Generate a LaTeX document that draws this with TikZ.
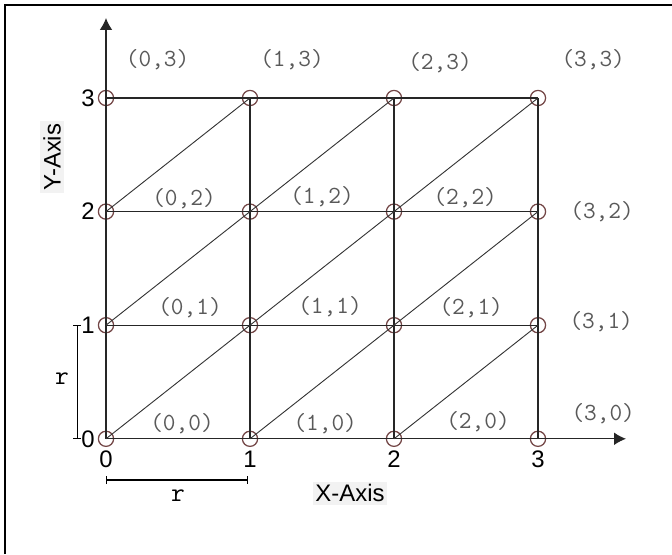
\documentclass[tikz,border=0pt]{standalone}
\usepackage{fontspec}
\usepackage{tikz}
\usetikzlibrary{arrows.meta}
\newfontfamily\sansfnt{Liberation Sans}
\definecolor{ptred}{RGB}{115,70,70}
\begin{document}
\begin{tikzpicture}[x=1cm,y=1cm,
  pt/.style={circle,draw=ptred,line width=0.9pt,minimum size=0.38cm,inner sep=0pt},
  lbl/.style={font=\ttfamily\fontsize{17.5}{19}\selectfont,text=black!65,inner sep=1pt},
  tick/.style={font=\sansfnt\fontsize{17}{19}\selectfont,inner sep=0pt},
  axname/.style={font=\sansfnt\fontsize{17}{19}\selectfont,fill=black!5,inner sep=2pt},
  rlbl/.style={font=\ttfamily\fontsize{19}{21}\selectfont,inner sep=0pt},
  gline/.style={draw=black!85,line width=0.85pt},
  dline/.style={draw=black!80,line width=0.65pt}]
 \useasboundingbox (-2.65,-2.88) rectangle (14.15,10.97);
 % Frame (top and left edges only)
 \draw[line width=1.4pt] (-2.525,-2.88) -- (-2.525,10.84) -- (14.15,10.84);
 % Grid points
 \node[pt] (p00) at (0,0) {};
 \node[pt] (p10) at (3.6,0) {};
 \node[pt] (p20) at (7.2,0) {};
 \node[pt] (p30) at (10.8,0) {};
 \node[pt] (p01) at (0,2.84) {};
 \node[pt] (p11) at (3.6,2.84) {};
 \node[pt] (p21) at (7.2,2.84) {};
 \node[pt] (p31) at (10.8,2.84) {};
 \node[pt] (p02) at (0,5.68) {};
 \node[pt] (p12) at (3.6,5.68) {};
 \node[pt] (p22) at (7.2,5.68) {};
 \node[pt] (p32) at (10.8,5.68) {};
 \node[pt] (p03) at (0,8.52) {};
 \node[pt] (p13) at (3.6,8.52) {};
 \node[pt] (p23) at (7.2,8.52) {};
 \node[pt] (p33) at (10.8,8.52) {};
 % Axes
 \coordinate (xend) at (13.0,0);
 \coordinate (yend) at (0,10.52);
 \draw[gline,-{Latex[length=3mm,width=3.2mm]}] (p00.center) -- (xend);
 \draw[gline,-{Latex[length=3mm,width=3.2mm]}] (p00.center) -- (yend);
 % Horizontal and vertical lines
 \draw[gline] (p01.center) -- (p31.center);
 \draw[gline] (p02.center) -- (p32.center);
 \draw[gline] (p03.center) -- (p33.center);
 \draw[gline] (p10.center) -- (p13.center);
 \draw[gline] (p20.center) -- (p23.center);
 \draw[gline] (p30.center) -- (p33.center);
 % Diagonals
 \draw[dline] (p02.center) -- (p13.center);
 \draw[dline] (p01.center) -- (p23.center);
 \draw[dline] (p00.center) -- (p33.center);
 \draw[dline] (p10.center) -- (p32.center);
 \draw[dline] (p20.center) -- (p31.center);
 % Point labels
 \node[lbl] (l03) at (1.29,9.47)  {(0,3)};
 \node[lbl] (l13) at (4.65,9.47)  {(1,3)};
 \node[lbl] (l23) at (8.35,9.40)  {(2,3)};
 \node[lbl] (l33) at (12.18,9.49) {(3,3)};
 \node[lbl] (l02) at (1.95,6.0)   {(0,2)};
 \node[lbl] (l12) at (5.4,6.05)   {(1,2)};
 \node[lbl] (l22) at (8.98,6.04)  {(2,2)};
 \node[lbl] (l32) at (12.4,5.67)  {(3,2)};
 \node[lbl] (l01) at (2.1,3.27)   {(0,1)};
 \node[lbl] (l11) at (5.6,3.3)    {(1,1)};
 \node[lbl] (l21) at (9.13,3.29)  {(2,1)};
 \node[lbl] (l31) at (12.38,2.92) {(3,1)};
 \node[lbl] (l00) at (1.9,0.37)   {(0,0)};
 \node[lbl] (l10) at (5.48,0.37)  {(1,0)};
 \node[lbl] (l20) at (9.3,0.42)   {(2,0)};
 \node[lbl] (l30) at (12.43,0.64) {(3,0)};
 % Tick numbers
 \node[tick] (tx0) at (0,-0.5)    {0};
 \node[tick] (tx1) at (3.6,-0.5)  {1};
 \node[tick] (tx2) at (7.2,-0.5)  {2};
 \node[tick] (tx3) at (10.8,-0.5) {3};
 \node[tick] (ty0) at (-0.45,0)    {0};
 \node[tick] (ty1) at (-0.45,2.84) {1};
 \node[tick] (ty2) at (-0.45,5.68) {2};
 \node[tick] (ty3) at (-0.45,8.52) {3};
 % Axis names
 \node[axname] (xname) at (6.1,-1.36) {X-Axis};
 \node[axname,rotate=90] (yname) at (-1.35,7.04) {Y-Axis};
 % Unit brackets r
 \coordinate (rv0) at (-0.72,0);
 \coordinate (rv1) at (-0.72,2.84);
 \draw[line width=0.8pt,{Bar[width=2mm]}-{Bar[width=2mm]}] (rv0) -- (rv1);
 \node[rlbl] (rv) at (-1.1,1.5) {r};
 \coordinate (rh0) at (0,-1.03);
 \coordinate (rh1) at (3.56,-1.03);
 \draw[line width=0.8pt,{Bar[width=2mm]}-{Bar[width=2mm]}] (rh0) -- (rh1);
 \node[rlbl] (rh) at (1.8,-1.41) {r};
\end{tikzpicture}
\end{document}
